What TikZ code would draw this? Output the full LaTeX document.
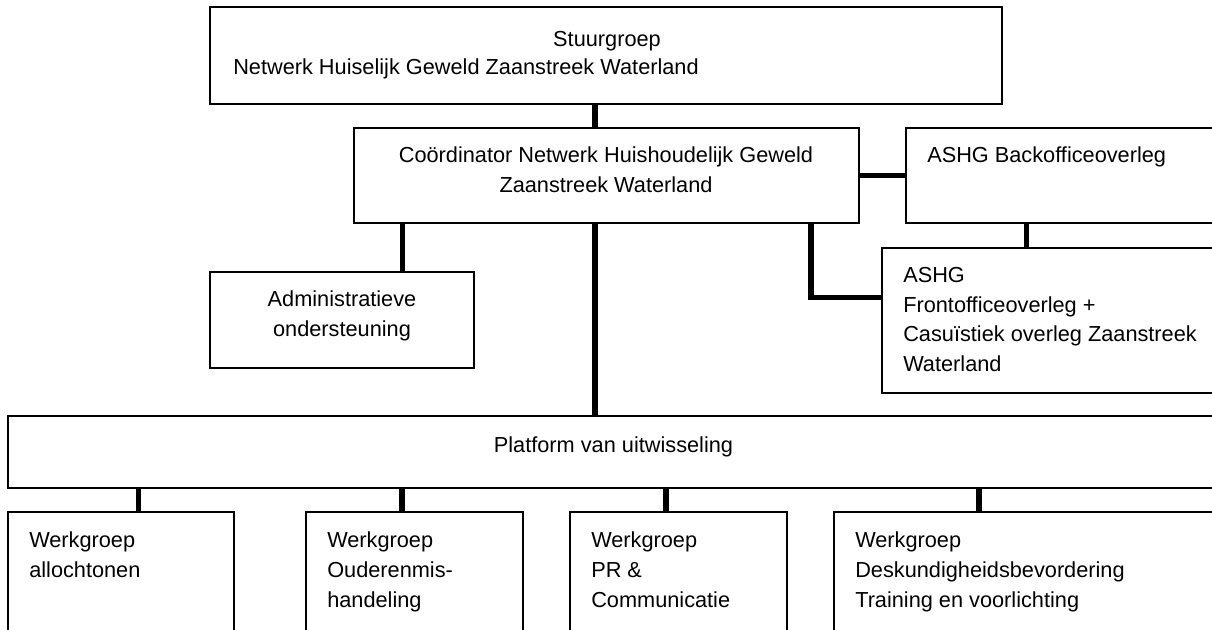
\documentclass[tikz,border=0pt]{standalone}
\usepackage{fontspec}
\setmainfont{Liberation Sans}
\usetikzlibrary{fit}

\tikzset{
  orgbox/.style={draw, line width=1.2pt, inner sep=0pt},
  link/.style={line width=4pt},
  lbl/.style={inner sep=0pt, font=\fontsize{16.3}{22.5}\selectfont},
}

\begin{document}
\begin{tikzpicture}[x=0.75pt, y=-0.75pt]
\useasboundingbox (0,0) rectangle (1212,630);
\clip (0,0) rectangle (1212,630);

% boxes
\node[orgbox, fit={(210,7) (1002,104)}] (stuur) {};
\node[orgbox, fit={(354,128) (859,223)}] (coord) {};
\node[orgbox, fit={(906,128) (1250,223)}] (back) {};
\node[orgbox, fit={(882,248) (1250,393)}] (front) {};
\node[orgbox, fit={(210,272) (474,368)}] (admin) {};
\node[orgbox, fit={(8,416) (1250,488)}] (platform) {};
\foreach \name/\l/\r in {wga/8/234, wgb/306/523, wgc/570/787, wgd/834/1250}
  \node[orgbox, fit={(\l,512) (\r,660)}] (\name) {};

% texts
\node[lbl, anchor=base] (stuur-1) at (607,47) {Stuurgroep};
\node[lbl, anchor=base west] (stuur-2) at (233,75) {Netwerk Huiselijk Geweld Zaanstreek Waterland};
\node[lbl, anchor=base] (coord-1) at (606,163) {Coördinator Netwerk Huishoudelijk Geweld};
\node[lbl, anchor=base] (coord-2) at (606,193) {Zaanstreek Waterland};
\node[lbl, anchor=base west] (back-1) at (927,163) {ASHG Backofficeoverleg};
\foreach \t [count=\i from 0] in {ASHG, Frontofficeoverleg +, Casuïstiek overleg Zaanstreek, Waterland}
  \node[lbl, anchor=base west] (front-\i) at (903,283+29.5*\i) {\t};
\node[lbl, anchor=base] (admin-1) at (342,307) {Administratieve};
\node[lbl, anchor=base] (admin-2) at (342,337) {ondersteuning};
\node[lbl, anchor=base] (platform-1) at (613.5,452) {Platform van uitwisseling};
\foreach \name/\x/\lines in {wga/29/{Werkgroep,allochtonen},
    wgb/327/{Werkgroep,Ouderenmis-,handeling},
    wgc/591/{Werkgroep,PR \&,Communicatie},
    wgd/855/{Werkgroep,Deskundigheidsbevordering,Training en voorlichting}}
  \foreach \t [count=\i] in \lines
    \node[lbl, anchor=base west] (\name-\i) at (\x,517+30*\i) {\t};

% connectors
\coordinate (spine) at (595,0);
\coordinate (adminx) at (402.5,0);
\coordinate (backx) at (1026.5,0);
\coordinate (elbow) at (811,297.5);
\draw[link] (stuur.south -| spine) -- (coord.north -| spine);
\draw[link] (coord.south -| spine) -- (platform.north -| spine);
\draw[link] (coord.south -| adminx) -- (admin.north -| adminx);
\draw[link] (coord.east) -- (back.west);
\draw[link] (back.south -| backx) -- (front.north -| backx);
\draw[link] (coord.south -| elbow) -- (elbow) -- (front.west |- elbow);
\foreach \name/\x in {wga/138.5, wgb/402, wgc/666, wgd/979} {
  \coordinate (drop) at (\x,0);
  \draw[link] (platform.south -| drop) -- (\name.north -| drop);
}
\end{tikzpicture}
\end{document}
